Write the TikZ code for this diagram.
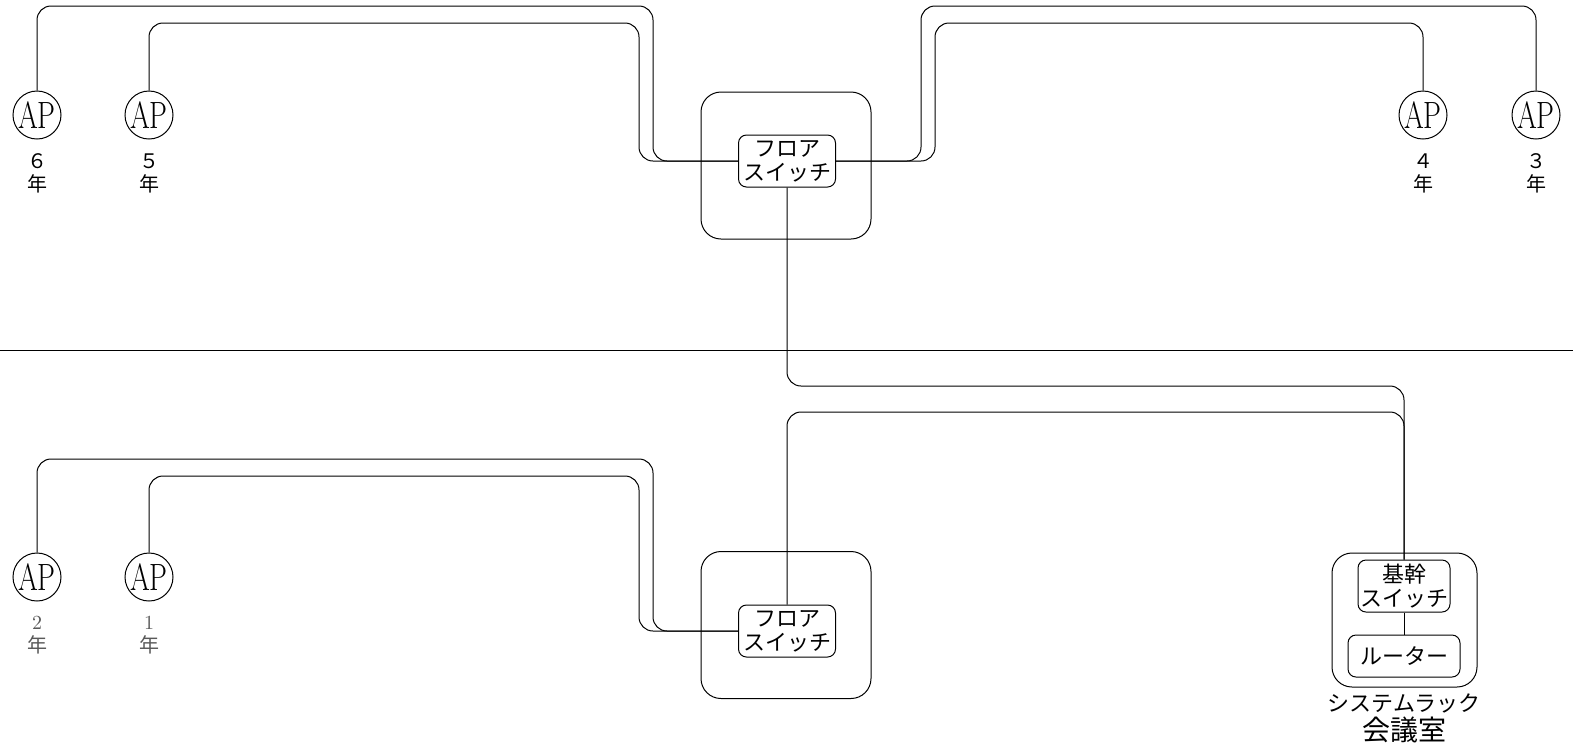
\documentclass[tikz,border=0pt]{standalone}
\usepackage{graphicx}
\usepackage{fontspec}
\newfontfamily\jpfont{Noto Sans CJK JP}
\usetikzlibrary{positioning}

\newcommand{\aptext}{\scalebox{0.75}[1]{AP}}

\tikzset{
  ap/.style={circle,draw,line width=0.5pt,minimum size=24pt,inner sep=0pt,font=\fontsize{19}{19}\selectfont},
  room/.style={draw,line width=0.5pt,rounded corners=10pt,minimum width=85pt,minimum height=73.5pt},
  swbox/.style={draw,line width=0.5pt,fill=white,rounded corners=4pt,align=center,inner sep=1pt,
    minimum width=48.5pt,minimum height=26pt,font=\jpfont\fontsize{11}{12}\selectfont},
  grade/.style={align=center,inner sep=0pt,font=\jpfont\fontsize{10}{11.5}\selectfont},
  gradegray/.style={grade,text=black!65},
  wire/.style={line width=0.5pt,rounded corners=7pt},
}

\begin{document}
\begin{tikzpicture}[x=0.5pt,y=-0.5pt]
  \useasboundingbox (0,0) rectangle (1573,752);

  % floor line
  \draw[line width=0.5pt] (0,350) -- (1573,350);

  % upper floor
  \node[room] (roomU) at (786,165.5) {};
  \node[swbox] (swU) at (787,161) {フロア\\スイッチ};

  \node[ap] (ap6) at (37,115) {\aptext};
  \node[ap] (ap5) at (149,115) {\aptext};
  \node[ap] (ap4) at (1423,115) {\aptext};
  \node[ap] (ap3) at (1536,115) {\aptext};
  \node[grade,below=7pt of ap6] (g6) {６\\年};
  \node[grade,below=7pt of ap5] (g5) {５\\年};
  \node[grade,below=7pt of ap4] (g4) {４\\年};
  \node[grade,below=7pt of ap3] (g3) {３\\年};

  \draw[wire] (ap6.north) |- (653,6) |- (swU.west);
  \draw[wire] (ap5.north) |- (639,23) |- (swU.west);
  \draw[wire] (ap3.north) |- (921,6) |- (swU.east);
  \draw[wire] (ap4.north) |- (935,23) |- (swU.east);

  % lower floor
  \node[room] (roomL) at (786,625) {};
  \node[swbox] (swL) at (787,631) {フロア\\スイッチ};

  \node[ap] (ap2) at (37,577) {\aptext};
  \node[ap] (ap1) at (149,577) {\aptext};
  \node[gradegray,below=7pt of ap2] (g2) {{\rmfamily 2}\\年};
  \node[gradegray,below=7pt of ap1] (g1) {{\rmfamily 1}\\年};

  \draw[wire] (ap2.north) |- (653,459) |- (swL.west);
  \draw[wire] (ap1.north) |- (639,476) |- (swL.west);

  % system rack
  \node[draw,line width=0.5pt,rounded corners=10pt,minimum width=72.5pt,minimum height=67pt] (rack) at (1404.5,620) {};
  \node[swbox,minimum width=45pt] (core) at (1404,586) {基幹\\スイッチ};
  \node[swbox,minimum width=56pt,minimum height=21pt] (router) at (1404,656) {ルーター};
  \node[grade,font=\jpfont\fontsize{11}{12}\selectfont] (rackname) at (1404,703) {システムラック};
  \node[grade,font=\jpfont\fontsize{14}{14}\selectfont] (roomname) at (1404,730) {会議室};

  \draw[wire] (core.south) -- (router.north);
  \draw[wire] (swU.south) |- (1404,386) -- (core.north);
  \draw[wire] (swL.north) |- (1404,412) -- (core.north);
\end{tikzpicture}
\end{document}
